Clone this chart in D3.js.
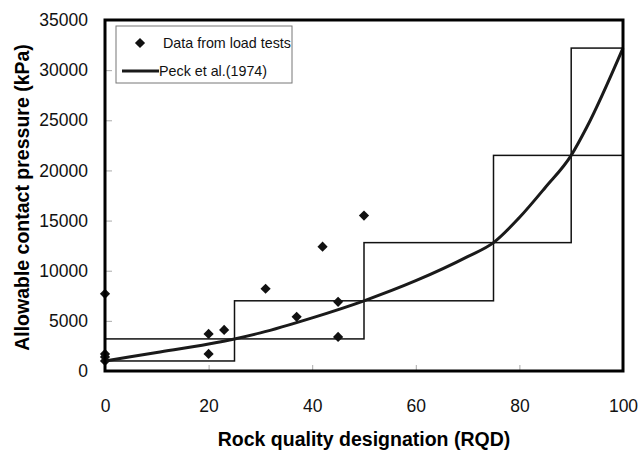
<!DOCTYPE html>
<html>
<head>
<meta charset="utf-8">
<script src="https://cdn.jsdelivr.net/npm/d3@7"></script>
<style>
  html, body { margin: 0; padding: 0; background: #fff; }
  svg { display: block; }
  .num { font-family: "Liberation Sans Narrow", "Arial Narrow", "Liberation Sans", Arial, sans-serif; }
  .ttl { font-family: "Liberation Sans", Arial, sans-serif; font-weight: bold; }
</style>
</head>
<body>
<svg id="chart" width="638" height="459"></svg>
<script>
// Load test results: RQD vs allowable contact pressure (kPa)
const testRQD      = [0, 0, 0, 0, 20, 20, 23, 31, 37, 42, 45, 45, 50];
const testPressure = [7700, 1700, 1400, 1000, 3700, 1700, 4100, 8200, 5400, 12400, 6900, 3400, 15500];

// Peck et al. (1974) design curve
const peckRQD      = [0, 10, 20, 25, 30, 40, 50, 60, 70, 75, 80, 85, 90, 93, 100];
const peckPressure = [1000, 1850, 2700, 3200, 3800, 5300, 7000, 9000, 11400, 12800, 15300, 18300, 21500, 24300, 32200];

// Step bands: RQD interval and lower / upper pressure
const bandStart = [0, 25, 50, 75, 90];
const bandEnd   = [25, 50, 75, 90, 100];
const bandLow   = [1000, 3200, 7000, 12800, 21500];
const bandHigh  = [3200, 7000, 12800, 21500, 32200];

const xTicks = [0, 20, 40, 60, 80, 100];
const yTicks = [0, 5000, 10000, 15000, 20000, 25000, 30000, 35000];

const svg = d3.select("#chart");
const m = { left: 105, right: 623, top: 20, bottom: 371 };

const x = d3.scaleLinear().domain([0, 100]).range([m.left, m.right]);
const y = d3.scaleLinear().domain([0, 35000]).range([m.bottom, m.top]);

// Ticks (short grey marks pointing inwards)
const xAxis = svg.append("g").attr("transform", `translate(0,${m.bottom})`)
  .call(d3.axisBottom(x).tickValues(xTicks).tickFormat(d3.format("d"))
    .tickSizeInner(-6).tickSizeOuter(0).tickPadding(29));
const yAxis = svg.append("g").attr("transform", `translate(${m.left},0)`)
  .call(d3.axisLeft(y).tickValues(yTicks).tickFormat(d3.format("d"))
    .tickSizeInner(-7).tickSizeOuter(0).tickPadding(17));
[xAxis, yAxis].forEach(g => {
  g.select(".domain").remove();
  g.selectAll(".tick line").attr("stroke", "#aaa").attr("stroke-width", 1);
  g.selectAll(".tick text").attr("class", "num").attr("font-size", 17.5).attr("fill", "#111");
});

// Band boxes
const bands = bandStart.map((s, i) => ({ s, e: bandEnd[i], lo: bandLow[i], hi: bandHigh[i] }));
svg.append("g").selectAll("rect").data(bands).join("rect")
  .attr("x", d => x(d.s)).attr("width", d => x(d.e) - x(d.s))
  .attr("y", d => y(d.hi)).attr("height", d => y(d.lo) - y(d.hi))
  .attr("fill", "none").attr("stroke", "#111").attr("stroke-width", 1.5);

// Peck curve
const peck = peckRQD.map((r, i) => [r, peckPressure[i]]);
svg.append("path").datum(peck)
  .attr("d", d3.line().x(d => x(d[0])).y(d => y(d[1])).curve(d3.curveMonotoneX))
  .attr("fill", "none").attr("stroke", "#1a1a1a").attr("stroke-width", 3);

// Load test markers
const diamond = d3.symbol().type(d3.symbolSquare).size(52);
svg.append("g").selectAll("path").data(testRQD.map((r, i) => [r, testPressure[i]])).join("path")
  .attr("d", diamond)
  .attr("transform", d => `translate(${x(d[0])},${y(d[1])}) rotate(45)`)
  .attr("fill", "#111");

// Plot frame
svg.append("rect")
  .attr("x", m.left).attr("y", m.top)
  .attr("width", m.right - m.left).attr("height", m.bottom - m.top)
  .attr("fill", "none").attr("stroke", "#000").attr("stroke-width", 3);

// Legend
const lg = svg.append("g");
lg.append("rect").attr("x", 116).attr("y", 26).attr("width", 176).attr("height", 57)
  .attr("fill", "#fff").attr("stroke", "#777").attr("stroke-width", 1);
lg.append("path").attr("d", diamond).attr("transform", "translate(140,43) rotate(45)").attr("fill", "#111");
lg.append("line").attr("x1", 122).attr("x2", 159).attr("y1", 71).attr("y2", 71)
  .attr("stroke", "#1a1a1a").attr("stroke-width", 3);
lg.append("text").attr("class", "num").attr("x", 163).attr("y", 48).attr("font-size", 14.3)
  .attr("fill", "#111").text("Data from load tests");
lg.append("text").attr("class", "num").attr("x", 159).attr("y", 76).attr("font-size", 14.3)
  .attr("fill", "#111").text("Peck et al.(1974)");

// Axis titles
svg.append("text").attr("class", "ttl").attr("x", (m.left + m.right) / 2).attr("y", 446)
  .attr("text-anchor", "middle").attr("font-size", 19.5).attr("fill", "#000")
  .text("Rock quality designation (RQD)");
svg.append("text").attr("class", "ttl")
  .attr("transform", `translate(29,${(m.top + m.bottom) / 2 + 2}) rotate(-90)`)
  .attr("text-anchor", "middle").attr("font-size", 19.5).attr("fill", "#000")
  .text("Allowable contact pressure (kPa)");
</script>
</body>
</html>
